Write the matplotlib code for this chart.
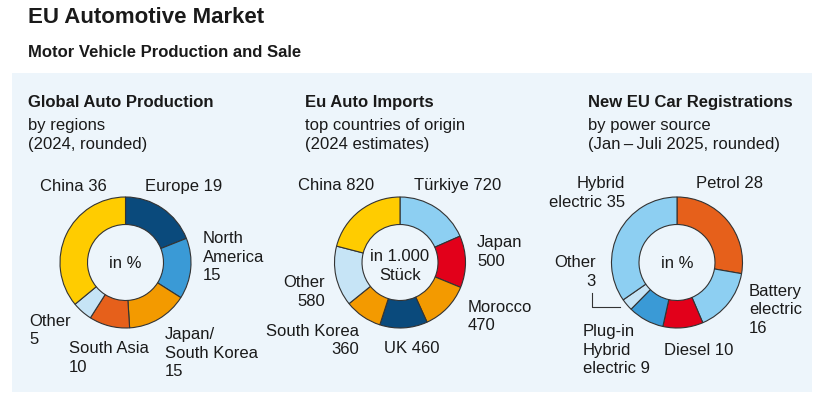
import matplotlib
matplotlib.use("Agg")
import matplotlib.pyplot as plt
from matplotlib.patches import Rectangle
from matplotlib.lines import Line2D

plt.rcParams['font.family'] = ['Liberation Sans', 'DejaVu Sans']

W, H = 820, 399

# data
prod_names = ["Europe", "North\nAmerica", "Japan/\nSouth Korea", "South Asia", "Other", "China"]
prod_values = [19, 15, 15, 10, 5, 36]
prod_seps = [" ", "\n", "\n", "\n", "\n", " "]

imp_names = ["Türkiye", "Japan", "Morocco", "UK", "South Korea", "Other", "China"]
imp_values = [720, 500, 470, 460, 360, 580, 820]
imp_seps = [" ", "\n", "\n", " ", "\n", "\n", " "]

reg_names = ["Petrol", "Battery\nelectric", "Diesel", "Plug-in\nHybrid\nelectric", "Other", "Hybrid\nelectric"]
reg_values = [28, 16, 10, 9, 3, 35]
reg_seps = [" ", "\n", " ", " ", "\n", " "]

headers = [
    ("Global Auto Production", "by regions", "(2024, rounded)"),
    ("Eu Auto Imports", "top countries of origin", "(2024 estimates)"),
    ("New EU Car Registrations", "by power source", "(Jan\u2009\u2013\u2009Juli 2025, rounded)"),
]
centers_txt = ["in %", "in 1.000\nStück", "in %"]

# colours
yellow = "#ffcc00"
dblue = "#0a4a7c"
mblue = "#3a9ad6"
lblue = "#8dcff2"
pale = "#c6e4f6"
orange = "#f39a00"
dorange = "#e6601b"
red = "#e2001a"

prod_colors = [dblue, mblue, orange, dorange, pale, yellow]
imp_colors = [lblue, red, orange, dblue, orange, pale, yellow]
reg_colors = [dorange, lblue, red, mblue, pale, lblue]

# layout (pixel positions: x, first baseline, alignment)
prod_pos = [(145, 191, "left"), (203, 243, "left"), (165, 339, "left"),
            (69, 353, "left"), (29, 326, "left"), (40, 191, "left")]
imp_pos = [(414, 190, "left"), (477, 247, "left"), (468, 312, "left"),
           (384, 353, "left"), (359, 336, "right"), (325, 287, "right"), (298, 190, "left")]
reg_pos = [(696, 188, "left"), (749, 296, "left"), (664, 355, "left"),
           (583, 336, "left"), (596, 267, "right"), (625, 188, "right")]
pie_centers = [(125.5, 262.5), (400, 262.5), (677, 262.5)]
header_x = [28, 305, 588]
center_base = [268, 261, 268]
R = 65.5
LH = 18.5
txt_col = "#1a1a1a"

fig = plt.figure(figsize=(W / 100, H / 100), dpi=100)
fig.patch.set_facecolor("white")


def fx(x):
    return x / W


def fy(y):
    return 1 - y / H


def put(x, y, s, ha="left", size=12, weight="normal"):
    for i, line in enumerate(s.split("\n")):
        fig.text(fx(x), fy(y + i * LH), line, ha=ha, va="baseline",
                 fontsize=size, fontweight=weight, color=txt_col)


fig.add_artist(Rectangle((fx(12), fy(392)), fx(812) - fx(12), fy(73) - fy(392),
                         transform=fig.transFigure, facecolor="#edf5fb",
                         edgecolor="none", zorder=0))

put(28, 23, "EU Automotive Market", size=16, weight="bold")
put(28, 57, "Motor Vehicle Production and Sale", size=12, weight="bold")

for hx, (t, s1, s2) in zip(header_x, headers):
    put(hx, 107, t, weight="bold")
    put(hx, 130, s1)
    put(hx, 149, s2)

charts = [
    (prod_names, prod_values, prod_seps, prod_colors, prod_pos),
    (imp_names, imp_values, imp_seps, imp_colors, imp_pos),
    (reg_names, reg_values, reg_seps, reg_colors, reg_pos),
]

half = 72
lim = half / R
for (names, vals, seps, cols, pos), (cx, cy), ctxt, cb in zip(charts, pie_centers, centers_txt, center_base):
    ax = fig.add_axes([fx(cx - half), fy(cy + half), 2 * half / W, 2 * half / H])
    ax.pie(vals, colors=cols, startangle=90, counterclock=False, radius=1,
           wedgeprops=dict(width=0.42, edgecolor="#333333", linewidth=0.8))
    ax.set_xlim(-lim, lim)
    ax.set_ylim(-lim, lim)
    ax.set_aspect("equal")
    ax.axis("off")
    for n, v, sep, (lx, ly, ha) in zip(names, vals, seps, pos):
        put(lx, ly, n + sep + str(v), ha=ha)
    put(cx, cb, ctxt, ha="center")

# leader line for "Other 3"
fig.add_artist(Line2D([fx(592), fx(592), fx(620)], [fy(293), fy(307), fy(307)],
                      transform=fig.transFigure, color="#333333", linewidth=0.8))

fig.savefig("out.png", dpi=100)
